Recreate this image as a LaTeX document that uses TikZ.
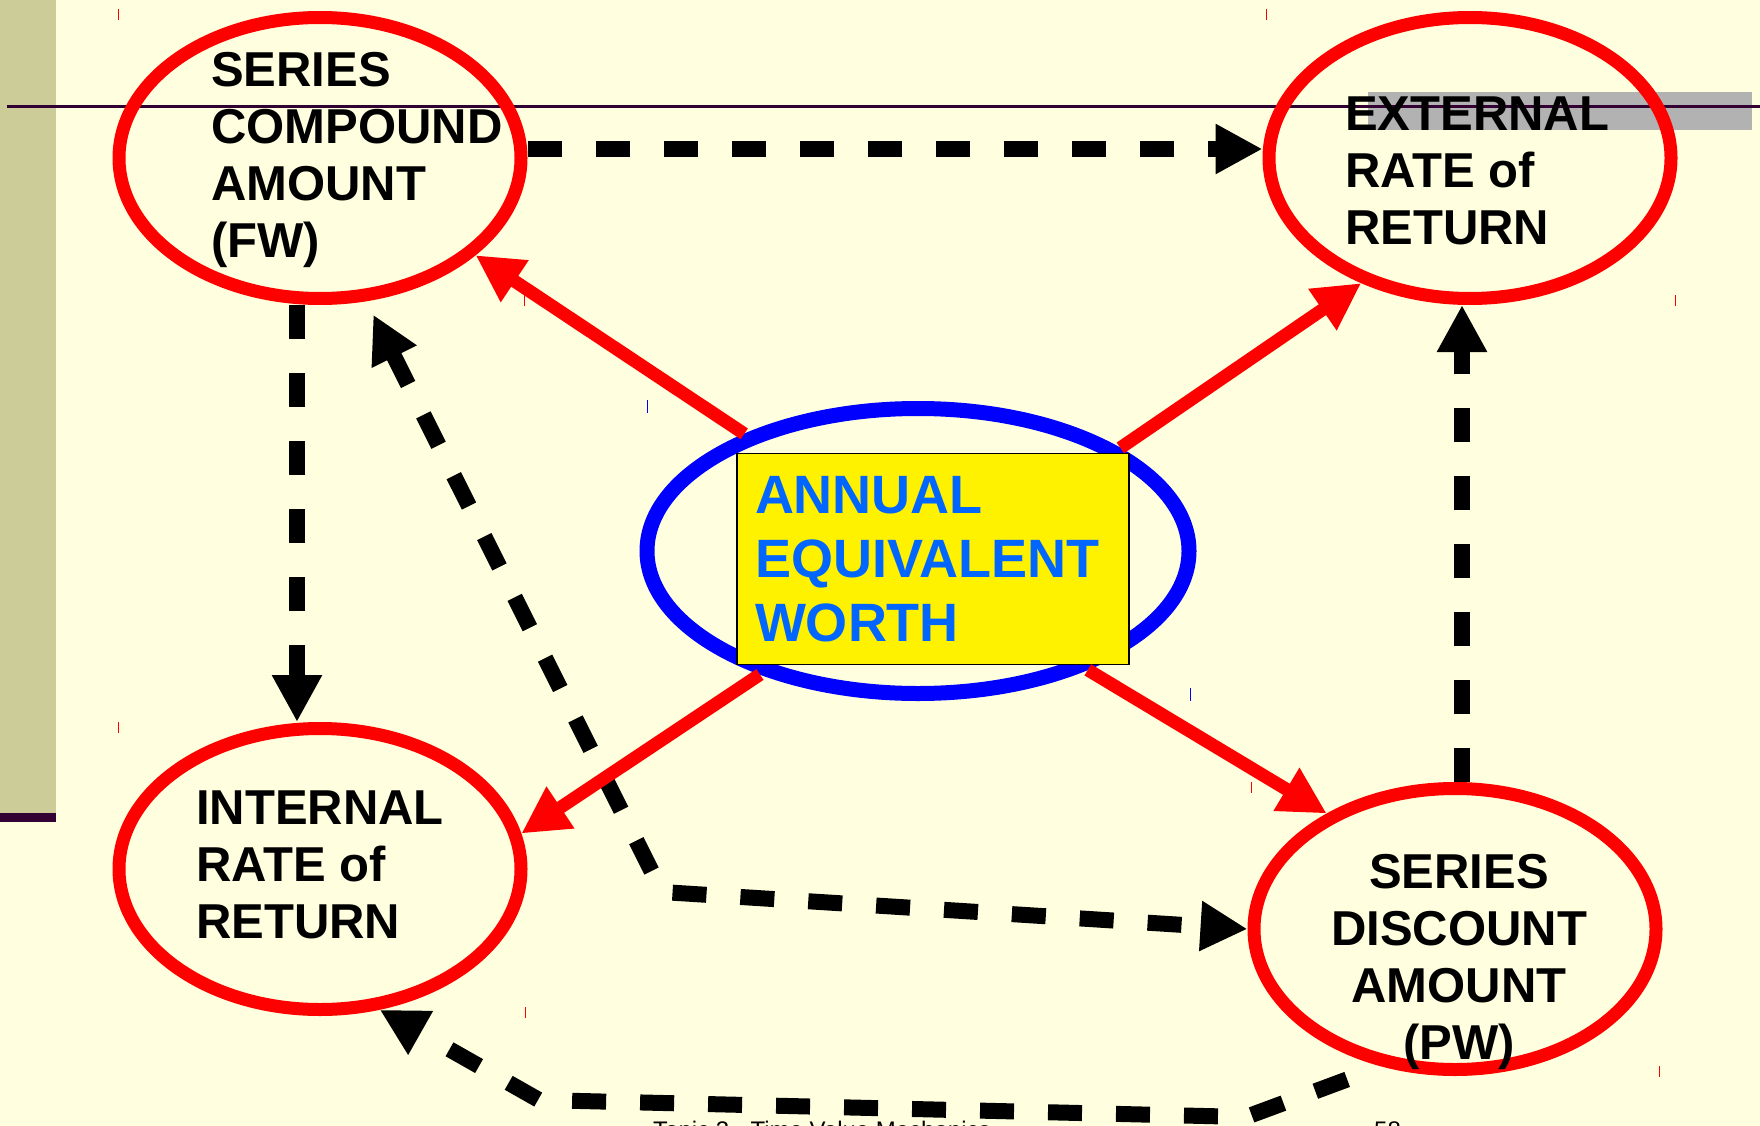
\documentclass[tikz,border=0pt]{standalone}
\usepackage{fontspec}
\setmainfont{Liberation Sans}
\usepackage{tikz}
\usetikzlibrary{arrows.meta,shapes.geometric}

\definecolor{bg}{HTML}{FFFFE0}
\definecolor{barc}{HTML}{CCCC99}
\definecolor{dk}{HTML}{330033}
\definecolor{greyc}{HTML}{B2B2B2}
\definecolor{aeblue}{HTML}{0066FF}

\begin{document}
\begin{tikzpicture}[
  x=1pt, y=-1pt,
  >={Triangle[length=47pt,width=47pt]},
  oval/.style={ellipse, draw=red, line width=13pt, minimum width=402pt, minimum height=281pt, inner sep=0pt},
  blob/.style={ellipse, draw=blue, line width=15pt, minimum width=542pt, minimum height=285pt, inner sep=0pt},
  ybox/.style={draw, fill=yellow, line width=1.8pt, minimum width=392pt, minimum height=211pt, text width=356pt, align=left, inner sep=0pt, text=aeblue, font=\fontsize{54}{64}\selectfont\bfseries},
  lbl/.style={font=\fontsize{49}{57}\selectfont\bfseries, align=left, inner sep=0pt, anchor=north west},
  rarr/.style={->, red, line width=13pt},
  darr/.style={->, line width=16pt, dash pattern=on 34pt off 34pt}
]
\useasboundingbox (0,0) rectangle (1760,1126);
\clip (0,0) rectangle (1760,1126);
\fill[bg] (0,0) rectangle (1760,1126);
\fill[barc] (0,0) rectangle (56,813);
\fill[dk] (0,813) rectangle (56,822);
\fill[greyc] (1368,92) rectangle (1752,130);
\draw[dk, line width=3pt] (7,107) -- (1760,107);

\foreach \x/\y in {118/9, 1266/9, 524/295, 1675/295, 118/722, 525/1007, 1659/1066, 1251/782}
  \draw[red, line width=1pt] (\x,\y) -- ++(0,11);
\foreach \x/\y in {647/400, 1190/688}
  \draw[blue, line width=1pt] (\x,\y) -- ++(0,13);

\node[oval] (sca) at (320,158) {};
\node[oval] (err) at (1470,158) {};
\node[oval] (irr) at (320,869) {};
\node[oval] (sda) at (1455,929) {};

\coordinate (k1) at (662,892);
\coordinate (k2) at (1246,1117);
\coordinate (k3) at (539,1100);

\draw[darr] ([yshift=9pt]sca.east) -- ([yshift=9pt]err.west);
\draw[darr] ([xshift=-23pt]sca.south) -- ([xshift=-23pt]irr.north);
\draw[darr] ([xshift=7pt]sda.north) -- ([xshift=7pt]sda.north |- err.south);
\draw[darr, <->, shorten <=15pt] (sca.-72) -- (k1) -- (sda.west);
\draw[darr, shorten <=37pt] (sda.-118) -- (k2) -- (k3) -- (irr.-67);

\node[blob] (aew) at (918,551) {};
\node[ybox] (aewbox) at (933,559) {ANNUAL\\EQUIVALENT\\WORTH};

\draw[rarr] (aew.146) -- (sca.-32);
\draw[rarr] (aew.27) -- (err.-131);
\draw[rarr] (aew.218) -- (irr.10);
\draw[rarr] (aew.-35) -- (sda.138);

\node[lbl] (scat) at (211,52) {SERIES\\COMPOUND\\AMOUNT\\(FW)};
\node[lbl] (errt) at (1345,97) {EXTERNAL\\RATE of\\RETURN};
\node[lbl] (irrt) at (196,791) {INTERNAL\\RATE of\\RETURN};
\node[lbl, anchor=north, align=center] (sdat) at (1459,854) {SERIES\\DISCOUNT\\AMOUNT\\(PW)};

\node[font=\fontsize{24}{28}\selectfont, anchor=base west, inner sep=0pt] (foot) at (653,1138) {Topic 3 - Time Value Mechanics};
\node[font=\fontsize{24}{28}\selectfont, anchor=base west, inner sep=0pt] (pg) at (1374,1138) {58};
\end{tikzpicture}
\end{document}
